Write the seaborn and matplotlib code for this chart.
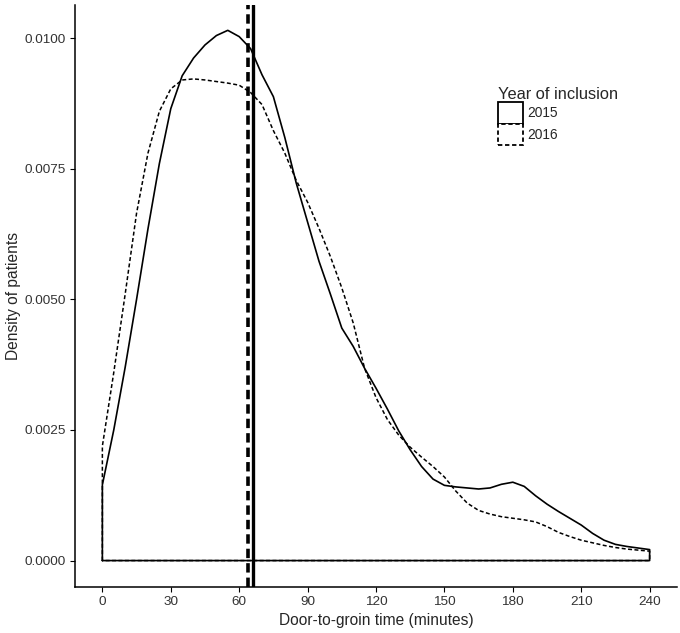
import numpy as np
import pandas as pd
import matplotlib
matplotlib.use('Agg')
import matplotlib.pyplot as plt
from matplotlib.patches import Patch
from matplotlib.ticker import FormatStrFormatter
import seaborn as sns

# door-to-groin time grid (minutes)
minutes = list(range(0, 241, 5))

# density, year 2015 (solid)
dens_2015 = [0.00145, 0.00250, 0.00370, 0.00500, 0.00635, 0.00760, 0.00865, 0.00928,
             0.00962, 0.00987, 0.01005, 0.01015, 0.01003, 0.00980, 0.00930, 0.00888,
             0.00810, 0.00723, 0.00648, 0.00573, 0.00510, 0.00445, 0.00410, 0.00368,
             0.00330, 0.00290, 0.00248, 0.00212, 0.00180, 0.00156, 0.00144, 0.00141,
             0.00139, 0.00137, 0.00139, 0.00146, 0.00150, 0.00142, 0.00124, 0.00108,
             0.00094, 0.00081, 0.00068, 0.00052, 0.00039, 0.00031, 0.00027, 0.00024,
             0.00021]

# density, year 2016 (dashed)
dens_2016 = [0.00219, 0.00360, 0.00510, 0.00665, 0.00780, 0.00860, 0.00903, 0.00920,
             0.00922, 0.00920, 0.00917, 0.00914, 0.00910, 0.00896, 0.00873, 0.00823,
             0.00780, 0.00728, 0.00686, 0.00636, 0.00582, 0.00522, 0.00455, 0.00368,
             0.00312, 0.00270, 0.00240, 0.00217, 0.00198, 0.00180, 0.00160, 0.00133,
             0.00110, 0.00096, 0.00089, 0.00084, 0.00081, 0.00078, 0.00074, 0.00065,
             0.00054, 0.00046, 0.00039, 0.00034, 0.00029, 0.00025, 0.00022, 0.00020,
             0.00018]

# median door-to-groin time per year
median_2015 = 66
median_2016 = 64

years = ['2015', '2016']
x_ticks = [0, 30, 60, 90, 120, 150, 180, 210, 240]
y_ticks = [0.0, 0.0025, 0.0050, 0.0075, 0.0100]


def closed(xs, ys):
    # density outline like ggplot: curve + drop to baseline + back along baseline
    xx = [xs[0]] + list(xs) + [xs[-1], xs[0]]
    yy = [0.0] + list(ys) + [0.0, 0.0]
    return xx, yy


sns.set_theme(style='ticks')
plt.rcParams['font.family'] = ['Liberation Sans', 'DejaVu Sans']

fig = plt.figure(figsize=(6.8, 6.33), dpi=100)
ax = fig.add_axes([75 / 680, 46 / 633, 602 / 680, 582 / 633])

x15, y15 = closed(minutes, dens_2015)
x16, y16 = closed(minutes, dens_2016)
df15 = pd.DataFrame({'x': x15, 'y': y15})
df16 = pd.DataFrame({'x': x16, 'y': y16})

sns.lineplot(data=df16, x='x', y='y', sort=False, estimator=None, ax=ax,
             color='black', linewidth=1.1, dashes=False)
ax.lines[-1].set_dashes((2.6, 1.6))
sns.lineplot(data=df15, x='x', y='y', sort=False, estimator=None, ax=ax,
             color='black', linewidth=1.2)

ax.axvline(median_2016, color='black', linewidth=2.6, dashes=(2.6, 1.4))
ax.axvline(median_2015, color='black', linewidth=2.4)

ax.set_xlim(-12, 252)
ax.set_ylim(-0.000506, 0.010635)
ax.set_xticks(x_ticks)
ax.set_yticks(y_ticks)
ax.yaxis.set_major_formatter(FormatStrFormatter('%.4f'))
ax.tick_params(axis='both', labelsize=9.7, colors='black', labelcolor='#333333',
               length=3.8, width=0.8, pad=3)
ax.set_xlabel('Door-to-groin time (minutes)', fontsize=11.2, labelpad=3)
ax.set_ylabel('Density of patients', fontsize=11.2, labelpad=2)
for s in ['left', 'bottom']:
    ax.spines[s].set_linewidth(1.1)
    ax.spines[s].set_color('black')
sns.despine(ax=ax)

handles = [Patch(facecolor='white', edgecolor='black', linewidth=1.3, label=years[0]),
           Patch(facecolor='white', edgecolor='black', linewidth=1.3, linestyle=(0, (2.4, 1.5)),
                 label=years[1])]
leg = fig.legend(handles=handles, title='Year of inclusion', loc='upper left',
                 bbox_to_anchor=(491 / 680, 1 - 80 / 633), frameon=False,
                 fontsize=9.9, title_fontsize=11.8, handlelength=1.8, handleheight=2.0,
                 labelspacing=0.03, handletextpad=0.3, borderpad=0.0,
                 alignment='left')

fig.savefig('out.png', dpi=100)
